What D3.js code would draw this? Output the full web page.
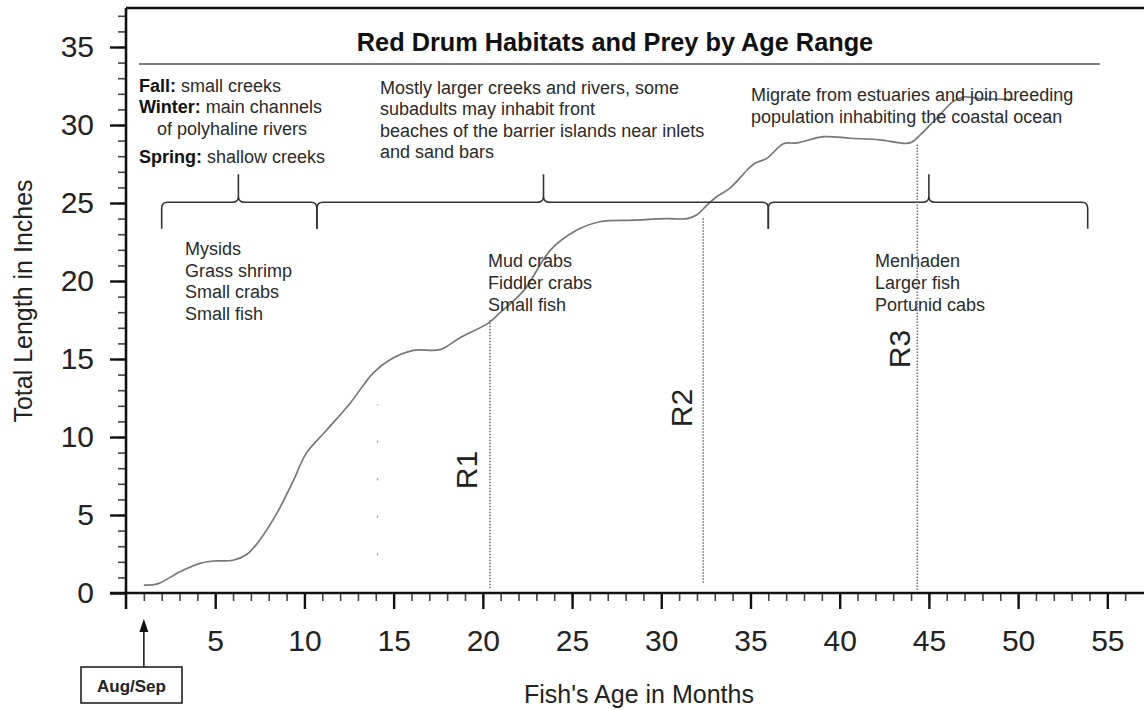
<!DOCTYPE html>
<html lang="en">
<head>
  <meta charset="UTF-8" />
  <title>Red Drum Habitats and Prey by Age Range</title>
  <style>
    body {
      margin: 0;
      background: #ffffff;
    }
    svg {
      display: block;
      font-family: Arial, "Liberation Sans", sans-serif;
    }
    .note {
      font-size: 18px;
      fill: #2a2a2a;
    }
    .tick text {
      font-size: 30px;
      fill: #222;
    }
    .axis-title {
      font-size: 25px;
      fill: #222;
    }
  </style>
  <script src="https://d3js.org/d3.v7.min.js"></script>
</head>
<body>
  <svg id="chart" width="1144" height="710"></svg>

  <script>
    // growth curve
    const ageMonths = [1.0, 1.8, 3.0, 4.15, 4.9, 6.0, 6.8, 7.5, 8.45, 9.4, 10.1, 11.25, 12.55, 13.85, 14.8,
      16.1, 17.6, 18.7, 20.3, 20.95, 22.3, 23.8, 25.25, 26.55, 28.45, 30.3, 31.45, 32.0, 32.55, 33.1,
      33.85, 34.8, 35.25, 35.9, 36.85, 37.6, 39.1, 40.6, 42.25, 43.95, 44.5, 45.45, 46.35, 46.95, 47.85, 49.8];
    const lengthInches = [0.5, 0.6, 1.35, 1.9, 2.05, 2.1, 2.5, 3.4, 5.1, 7.25, 8.95, 10.45, 12.15, 14.1, 14.95,
      15.55, 15.6, 16.35, 17.3, 17.95, 19.4, 22.0, 23.25, 23.8, 23.9, 24.0, 24.0, 24.25, 24.85, 25.4,
      25.95, 27.1, 27.55, 27.85, 28.8, 28.85, 29.25, 29.15, 29.05, 28.85, 29.35, 30.45, 31.5, 31.8, 31.7, 31.65];

    const xTicks = [5, 10, 15, 20, 25, 30, 35, 40, 45, 50, 55];
    const yTicks = [0, 5, 10, 15, 20, 25, 30, 35];

    // recruitment ages R1..R3
    const rNames = ["R1", "R2", "R3"];
    const rAge = [20.4, 32.35, 44.35];
    const rTop = [17.5, 24.1, 28.85];
    const rBottom = [0.3, 0.65, 0.2];

    // faint marker near 14 months
    const faintAge = 14.1;
    const faintRange = [2.4, 12.1];

    // braces: segment ends and peaks (months)
    const braceEnds = [2.0, 10.7, 36.0, 53.9];
    const bracePeaks = [6.3, 23.4, 45.0];

    const titleText = "Red Drum Habitats and Prey by Age Range";
    const habitat2 = ["Mostly larger creeks and rivers, some", "subadults may inhabit front",
      "beaches of the barrier islands near inlets", "and sand bars"];
    const habitat3 = ["Migrate from estuaries and join breeding", "population inhabiting the coastal ocean"];
    const prey1 = ["Mysids", "Grass shrimp", "Small crabs", "Small fish"];
    const prey2 = ["Mud crabs", "Fiddler crabs", "Small fish"];
    const prey3 = ["Menhaden", "Larger fish", "Portunid cabs"];

    const svg = d3.select("#chart");

    const x = d3.scaleLinear().domain([0, 57]).range([126, 1143]);
    const y = d3.scaleLinear().domain([0, 37.5]).range([593, 8]);

    // --- axes ---
    const minorX = svg.append("g")
      .attr("transform", `translate(0,${y(0)})`)
      .call(d3.axisBottom(x).tickValues(d3.range(1, 57)).tickSize(8).tickFormat(""));
    minorX.select(".domain").remove();
    minorX.selectAll("line").attr("stroke", "#444").attr("stroke-width", 1.6);

    const majorX = svg.append("g")
      .attr("transform", `translate(0,${y(0)})`)
      .call(d3.axisBottom(x).tickValues(xTicks).tickSize(16).tickPadding(21));
    majorX.select(".domain").remove();
    majorX.selectAll("line").attr("stroke", "#111").attr("stroke-width", 2.4);

    const minorY = svg.append("g")
      .attr("transform", `translate(${x(0)},0)`)
      .call(d3.axisLeft(y).tickValues(d3.range(1, 38)).tickSize(8).tickFormat(""));
    minorY.select(".domain").remove();
    minorY.selectAll("line").attr("stroke", "#444").attr("stroke-width", 1.6);

    const majorY = svg.append("g")
      .attr("transform", `translate(${x(0)},0)`)
      .call(d3.axisLeft(y).tickValues(yTicks).tickSize(16).tickPadding(16));
    majorY.select(".domain").remove();
    majorY.selectAll("line").attr("stroke", "#111").attr("stroke-width", 2.4);

    // axis lines + top frame
    svg.append("line")
      .attr("x1", x(0)).attr("x2", x(0))
      .attr("y1", y(37.5)).attr("y2", y(0) + 16)
      .attr("stroke", "#111").attr("stroke-width", 2.6);
    svg.append("line")
      .attr("x1", x(0) - 16).attr("x2", x(57) + 1)
      .attr("y1", y(0)).attr("y2", y(0))
      .attr("stroke", "#111").attr("stroke-width", 2.6);
    svg.append("line")
      .attr("x1", x(0)).attr("x2", x(57) + 1)
      .attr("y1", y(37.5)).attr("y2", y(37.5))
      .attr("stroke", "#111").attr("stroke-width", 2.6);

    svg.append("text").attr("class", "axis-title")
      .attr("transform", "translate(32,301) rotate(-90)")
      .attr("text-anchor", "middle")
      .text("Total Length in Inches");
    svg.append("text").attr("class", "axis-title")
      .attr("x", 639).attr("y", 703)
      .attr("text-anchor", "middle")
      .text("Fish's Age in Months");

    // --- title ---
    svg.append("text")
      .attr("x", 615).attr("y", 51)
      .attr("text-anchor", "middle")
      .attr("font-size", 25.3).attr("font-weight", "bold").attr("fill", "#111")
      .text(titleText);
    svg.append("line")
      .attr("x1", 139).attr("x2", 1100).attr("y1", 64).attr("y2", 64)
      .attr("stroke", "#555").attr("stroke-width", 1.6);

    // --- habitat notes ---
    const h1Lines = [
      { b: "Fall:", t: " small creeks", x: 139, y: 92 },
      { b: "Winter:", t: " main channels", x: 139, y: 113 },
      { b: "", t: "of polyhaline rivers", x: 157, y: 135 },
      { b: "Spring:", t: " shallow creeks", x: 139, y: 163 }
    ];
    h1Lines.forEach(l => {
      const t = svg.append("text").attr("class", "note").attr("x", l.x).attr("y", l.y);
      if (l.b) t.append("tspan").attr("font-weight", "bold").attr("fill", "#111").text(l.b);
      t.append("tspan").text(l.t);
    });

    habitat2.forEach((s, i) => {
      svg.append("text").attr("class", "note")
        .attr("x", 380).attr("y", 94 + i * 21.4).text(s);
    });

    // --- growth curve (drawn before the top-right note so text sits over it) ---
    const line = d3.line()
      .x((d, i) => x(ageMonths[i]))
      .y((d, i) => y(lengthInches[i]))
      .curve(d3.curveCatmullRom.alpha(0.5));
    svg.append("path")
      .attr("d", line(ageMonths))
      .attr("fill", "none")
      .attr("stroke", "#777")
      .attr("stroke-width", 1.7);

    habitat3.forEach((s, i) => {
      svg.append("text").attr("class", "note")
        .attr("x", 751).attr("y", 101 + i * 22).text(s);
    });

    // --- braces ---
    const yh = y(25.05), yt = y(26.85), yb = y(23.35), r = 6;
    function bracePath(xl, xp, xr) {
      return `M${xl},${yb} L${xl},${yh + r} Q${xl},${yh} ${xl + r},${yh} L${xp - r},${yh} ` +
        `Q${xp},${yh} ${xp},${yh - r} L${xp},${yt} ` +
        `M${xp},${yh - r} Q${xp},${yh} ${xp + r},${yh} L${xr - r},${yh} Q${xr},${yh} ${xr},${yh + r} L${xr},${yb}`;
    }
    bracePeaks.forEach((p, i) => {
      svg.append("path")
        .attr("d", bracePath(x(braceEnds[i]), x(p), x(braceEnds[i + 1])))
        .attr("fill", "none")
        .attr("stroke", "#333")
        .attr("stroke-width", 1.6);
    });

    // --- prey lists ---
    prey1.forEach((s, i) => {
      svg.append("text").attr("class", "note").attr("x", 185).attr("y", 255 + i * 21.6).text(s);
    });
    prey2.forEach((s, i) => {
      svg.append("text").attr("class", "note").attr("x", 488).attr("y", 267 + i * 22).text(s);
    });
    prey3.forEach((s, i) => {
      svg.append("text").attr("class", "note").attr("x", 875).attr("y", 267 + i * 22).text(s);
    });

    // --- R lines ---
    rNames.forEach((name, i) => {
      svg.append("line")
        .attr("x1", x(rAge[i])).attr("x2", x(rAge[i]))
        .attr("y1", y(rBottom[i])).attr("y2", y(rTop[i]))
        .attr("stroke", "#777").attr("stroke-width", 1.6)
        .attr("stroke-dasharray", "1.5,1.5");
    });
    svg.append("line")
      .attr("x1", x(faintAge)).attr("x2", x(faintAge))
      .attr("y1", y(faintRange[0])).attr("y2", y(faintRange[1]))
      .attr("stroke", "#aaa").attr("stroke-width", 1.4)
      .attr("stroke-dasharray", "2.5,35");

    const rLabelPos = [{ dx: -13, cy: 470 }, { dx: -11, cy: 408 }, { dx: -7, cy: 349 }];
    rNames.forEach((name, i) => {
      svg.append("text")
        .attr("transform", `translate(${x(rAge[i]) + rLabelPos[i].dx},${rLabelPos[i].cy}) rotate(-90)`)
        .attr("text-anchor", "middle")
        .attr("font-size", 30).attr("fill", "#222")
        .text(name);
    });

    // --- Aug/Sep marker ---
    const ax = x(1);
    svg.append("line")
      .attr("x1", ax).attr("x2", ax).attr("y1", 667).attr("y2", 630)
      .attr("stroke", "#222").attr("stroke-width", 1.6);
    svg.append("path")
      .attr("d", `M${ax},619 L${ax - 4.5},632 L${ax + 4.5},632 Z`)
      .attr("fill", "#111");
    svg.append("rect")
      .attr("x", 81).attr("y", 667).attr("width", 101).attr("height", 36)
      .attr("fill", "#fff").attr("stroke", "#222").attr("stroke-width", 1.6);
    svg.append("text")
      .attr("x", 131.5).attr("y", 692)
      .attr("text-anchor", "middle")
      .attr("font-size", 17).attr("font-weight", "bold").attr("fill", "#222")
      .text("Aug/Sep");
  </script>
</body>
</html>
